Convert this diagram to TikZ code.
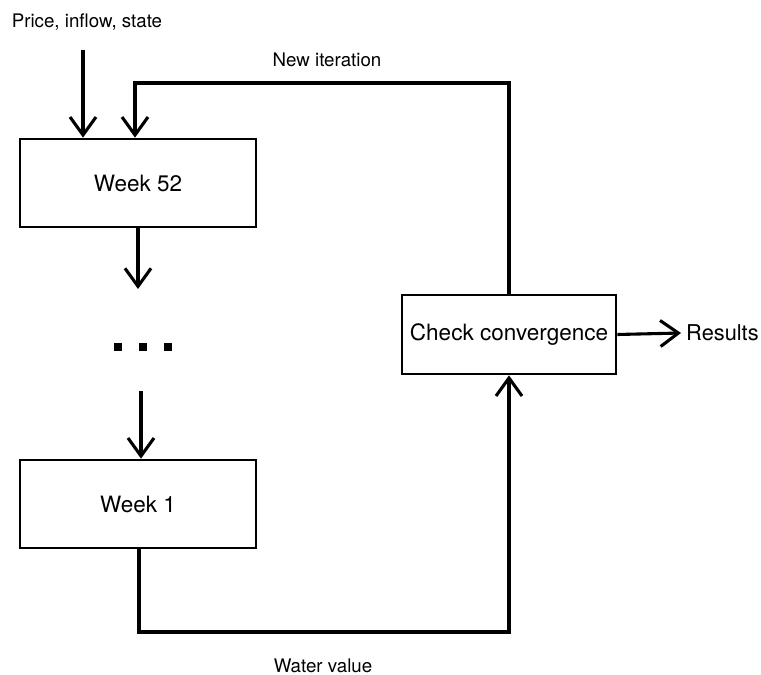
\documentclass[tikz,border=0pt]{standalone}
\usepackage{fontspec}
\setmainfont{TeX Gyre Heros}
\usetikzlibrary{arrows.meta}

\begin{document}
\begin{tikzpicture}[x=0.025cm, y=-0.025cm,
	box/.style = {draw, line width=1.9pt, rectangle, minimum width=5.9cm, minimum height=2.2cm, font=\fontsize{16}{18}\selectfont},
	arr/.style = {line width=2.2pt, -{Straight Barb[length=4.5mm, width=6.5mm, line width=2.2pt]}},
	lbl/.style = {font=\fontsize{13.3}{15}\selectfont}]
	\useasboundingbox (0,0) rectangle (761,675);
	% boxes
	\node[box] (w52) at (138,183) {Week 52};
	\node[box] (w1) at (138,504) {Week 1};
	\node[box, minimum width=5.35cm, minimum height=1.975cm, font=\fontsize{16}{18}\selectfont] (conv) at (509,334.5) {Check convergence};
	% labels
	\node[lbl] (pis) at (87,22) {Price, inflow, state};
	\node[lbl] (newit) at (327,60) {New iteration};
	\node[lbl] (wv) at (323,666) {Water value};
	\node[anchor=west, inner sep=3.5pt, font=\fontsize{15.5}{17}\selectfont] (res) at (681,333) {Results};
	% dots
	\foreach \x in {118,143,168}
		\fill (\x-4,343) rectangle +(8,8);
	% connectors
	\coordinate (in) at (83,50);
	\coordinate (loop) at (135,83);
	\coordinate (down) at (139,632);
	\coordinate (a) at (138,289);
	\coordinate (b) at (141,391);
	\draw[arr] (in) -- (in |- w52.north);
	\draw[arr] (conv.north) |- (loop) -- (loop |- w52.north);
	\draw[arr] (w52.south -| a) -- (a);
	\draw[arr] (b) -- (b |- w1.north);
	\draw[arr] (down |- w1.south) -- (down) -| (conv.south);
	\draw[arr] (conv.east) -- (res.west);
\end{tikzpicture}
\end{document}
